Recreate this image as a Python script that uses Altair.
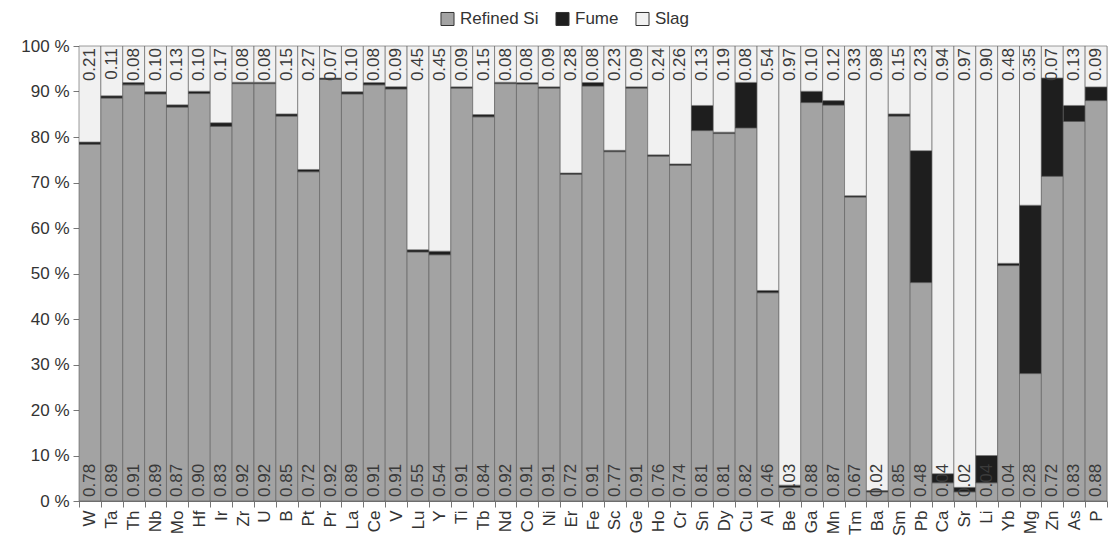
import altair as alt
import pandas as pd

elements = ["W", "Ta", "Th", "Nb", "Mo", "Hf", "Ir", "Zr", "U", "B", "Pt", "Pr", "La", "Ce", "V",
            "Lu", "Y", "Ti", "Tb", "Nd", "Co", "Ni", "Er", "Fe", "Sc", "Ge", "Ho", "Cr", "Sn", "Dy",
            "Cu", "Al", "Be", "Ga", "Mn", "Tm", "Ba", "Sm", "Pb", "Ca", "Sr", "Li", "Yb", "Mg", "Zn",
            "As", "P"]

refined = [0.78, 0.89, 0.91, 0.89, 0.87, 0.90, 0.83, 0.92, 0.92, 0.85, 0.72, 0.92, 0.89, 0.91, 0.91,
           0.55, 0.54, 0.91, 0.84, 0.92, 0.91, 0.91, 0.72, 0.91, 0.77, 0.91, 0.76, 0.74, 0.81, 0.81,
           0.82, 0.46, 0.03, 0.88, 0.87, 0.67, 0.02, 0.85, 0.48, 0.04, 0.02, 0.04, 0.52, 0.28, 0.71,
           0.83, 0.88]

fume = [0.005, 0.005, 0.005, 0.005, 0.005, 0.005, 0.008, 0.003, 0.003, 0.005, 0.005, 0.003, 0.005, 0.005, 0.005,
        0.005, 0.008, 0.003, 0.005, 0.003, 0.003, 0.003, 0.003, 0.008, 0.003, 0.003, 0.003, 0.003, 0.055, 0.003,
        0.10, 0.005, 0.005, 0.025, 0.01, 0.003, 0.003, 0.005, 0.29, 0.02, 0.01, 0.06, 0.005, 0.37, 0.215,
        0.035, 0.03]

slag = [0.21, 0.11, 0.08, 0.10, 0.13, 0.10, 0.17, 0.08, 0.08, 0.15, 0.27, 0.07, 0.10, 0.08, 0.09,
        0.45, 0.45, 0.09, 0.15, 0.08, 0.08, 0.09, 0.28, 0.08, 0.23, 0.09, 0.24, 0.26, 0.13, 0.19,
        0.08, 0.54, 0.97, 0.10, 0.12, 0.33, 0.98, 0.15, 0.23, 0.94, 0.97, 0.90, 0.48, 0.35, 0.07,
        0.13, 0.09]

refined_labels = ["0.78", "0.89", "0.91", "0.89", "0.87", "0.90", "0.83", "0.92", "0.92", "0.85", "0.72",
                  "0.92", "0.89", "0.91", "0.91", "0.55", "0.54", "0.91", "0.84", "0.92", "0.91", "0.91",
                  "0.72", "0.91", "0.77", "0.91", "0.76", "0.74", "0.81", "0.81", "0.82", "0.46", "0.03",
                  "0.88", "0.87", "0.67", "0.02", "0.85", "0.48", "0.04", "0.02", "0.04", "0.04", "0.28",
                  "0.72", "0.83", "0.88"]

slag_labels = ["0.21", "0.11", "0.08", "0.10", "0.13", "0.10", "0.17", "0.08", "0.08", "0.15", "0.27",
               "0.07", "0.10", "0.08", "0.09", "0.45", "0.45", "0.09", "0.15", "0.08", "0.08", "0.09",
               "0.28", "0.08", "0.23", "0.09", "0.24", "0.26", "0.13", "0.19", "0.08", "0.54", "0.97",
               "0.10", "0.12", "0.33", "0.98", "0.15", "0.23", "0.94", "0.97", "0.90", "0.48", "0.35",
               "0.07", "0.13", "0.09"]

series = ["Refined Si", "Fume", "Slag"]
colors = ["#a3a3a3", "#1e1e1e", "#f1f1f1"]

rows = []
for i, el in enumerate(elements):
    for k, (name, vals) in enumerate(zip(series, [refined, fume, slag])):
        rows.append({"element": el, "series": name, "value": vals[i], "order": k})
bars_df = pd.DataFrame(rows)

labels_df = pd.DataFrame({"element": elements, "rlab": refined_labels, "slab": slag_labels})

FONT = "Liberation Sans"

x_enc = alt.X("element:N", sort=elements, title=None,
              scale=alt.Scale(paddingInner=0, paddingOuter=0),
              axis=alt.Axis(labelAngle=270, labelFontSize=17, labelColor="#333333",
                            labelFont=FONT, tickBand="extent", tickSize=6,
                            tickColor="#777777", domainColor="#777777",
                            labelPadding=3, labelAlign="right", labelBaseline="middle"))

bars = alt.Chart(bars_df).mark_bar(stroke="#5a5a5a", strokeWidth=0.6).encode(
    x=x_enc,
    y=alt.Y("value:Q", stack="normalize", title=None,
            scale=alt.Scale(domain=[0, 1]),
            axis=alt.Axis(values=[i / 10 for i in range(11)],
                          labelExpr="format(datum.value*100, 'd') + ' %'",
                          labelFontSize=17, labelColor="#333333", labelFont=FONT,
                          grid=False, tickSize=6, tickColor="#777777",
                          domainColor="#777777", labelPadding=4)),
    color=alt.Color("series:N", sort=series,
                    scale=alt.Scale(domain=series, range=colors),
                    legend=alt.Legend(title=None, orient="none", direction="horizontal",
                                      legendX=360, legendY=-36, symbolType="square",
                                      symbolSize=170, symbolStrokeColor="#333333",
                                      symbolStrokeWidth=1, labelFontSize=17,
                                      labelFont=FONT, labelColor="#333333",
                                      columnPadding=14, symbolOffset=0)),
    order=alt.Order("order:Q"),
)

bottom_text = alt.Chart(labels_df).mark_text(
    angle=270, align="left", baseline="middle", dx=4, fontSize=17, font=FONT, color="#3a3a3a"
).encode(x=alt.X("element:N", sort=elements), y=alt.datum(0), text="rlab:N")

top_text = alt.Chart(labels_df).mark_text(
    angle=270, align="right", baseline="middle", dx=-2, fontSize=17, font=FONT, color="#3a3a3a"
).encode(x=alt.X("element:N", sort=elements), y=alt.datum(1), text="slab:N")

chart = alt.layer(bars, bottom_text, top_text).properties(
    width=1028, height=455,
    autosize=alt.AutoSizeParams(type="none"),
    padding={"left": 79, "top": 46, "right": 1, "bottom": 43},
).configure_view(stroke=None).configure(background="white")

chart.save("out.html", embed_options={"renderer": "svg", "actions": False})
